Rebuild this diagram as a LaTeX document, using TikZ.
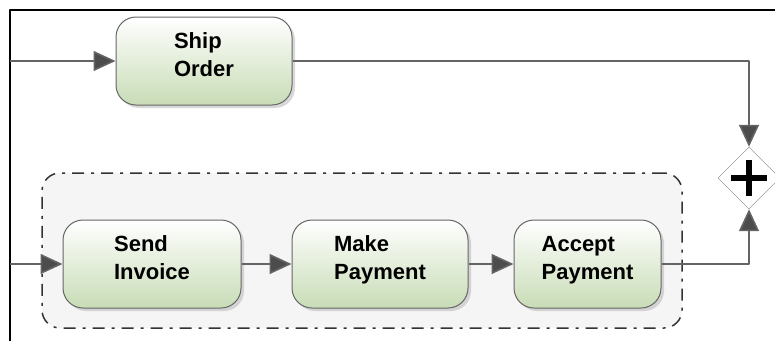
\documentclass[tikz,border=0pt]{standalone}
\usepackage{fontspec}
\setmainfont{Liberation Sans}
\usetikzlibrary{arrows.meta,shapes.geometric,shadows}
\definecolor{taskgreen}{RGB}{200,220,182}
\definecolor{linegray}{RGB}{100,100,100}
\definecolor{groupgray}{RGB}{245,245,245}
\begin{document}
\begin{tikzpicture}[x=1pt,y=-1pt,line join=round,
	task/.style={draw=gray!80!black,line width=1pt,rounded corners=20pt,top color=white,bottom color=taskgreen,minimum height=88pt,align=left,text depth=12pt,font=\fontsize{22}{28}\selectfont\bfseries,drop shadow={shadow xshift=3pt,shadow yshift=-3pt,fill=gray!60}},
	flow/.style={draw=linegray,line width=1.6pt,-{Triangle[length=22pt,width=20pt,fill=black!70]}}]
	\useasboundingbox (0,0) rectangle (775,341);
	\draw[line width=1.2pt] (10,341)--(10,10)--(775,10);
	\node[draw=black!80,line width=1.5pt,dash pattern=on 12pt off 7pt on 3pt off 7pt,fill=groupgray,rounded corners=18pt,minimum width=640pt,minimum height=155pt] (sub) at (362,250.5) {};
	\node[task,minimum width=176pt] (ship) at (204,61) {Ship\\Order};
	\node[task,minimum width=178pt] (send) at (152,264) {Send\\Invoice};
	\node[task,minimum width=176pt] (make) at (380,264) {Make\\Payment};
	\node[task,minimum width=147pt] (accept) at (587.5,264) {Accept\\Payment};
	\node[diamond,draw=gray,fill=white,minimum width=62pt,minimum height=62pt,inner sep=0pt] (join) at (749,178) {};
	\draw[line width=6pt] (join.center)++(-18,0)--++(36,0) (join.center)++(0,-18)--++(0,36);
	\coordinate (in1) at (10,61);
	\coordinate (in2) at (10,264);
	\draw[flow] (in1)--(ship);
	\draw[flow] (ship)-|(join);
	\draw[flow] (in2)--(send);
	\draw[flow] (send)--(make);
	\draw[flow] (make)--(accept);
	\draw[flow] (accept)-|(join);
\end{tikzpicture}
\end{document}
